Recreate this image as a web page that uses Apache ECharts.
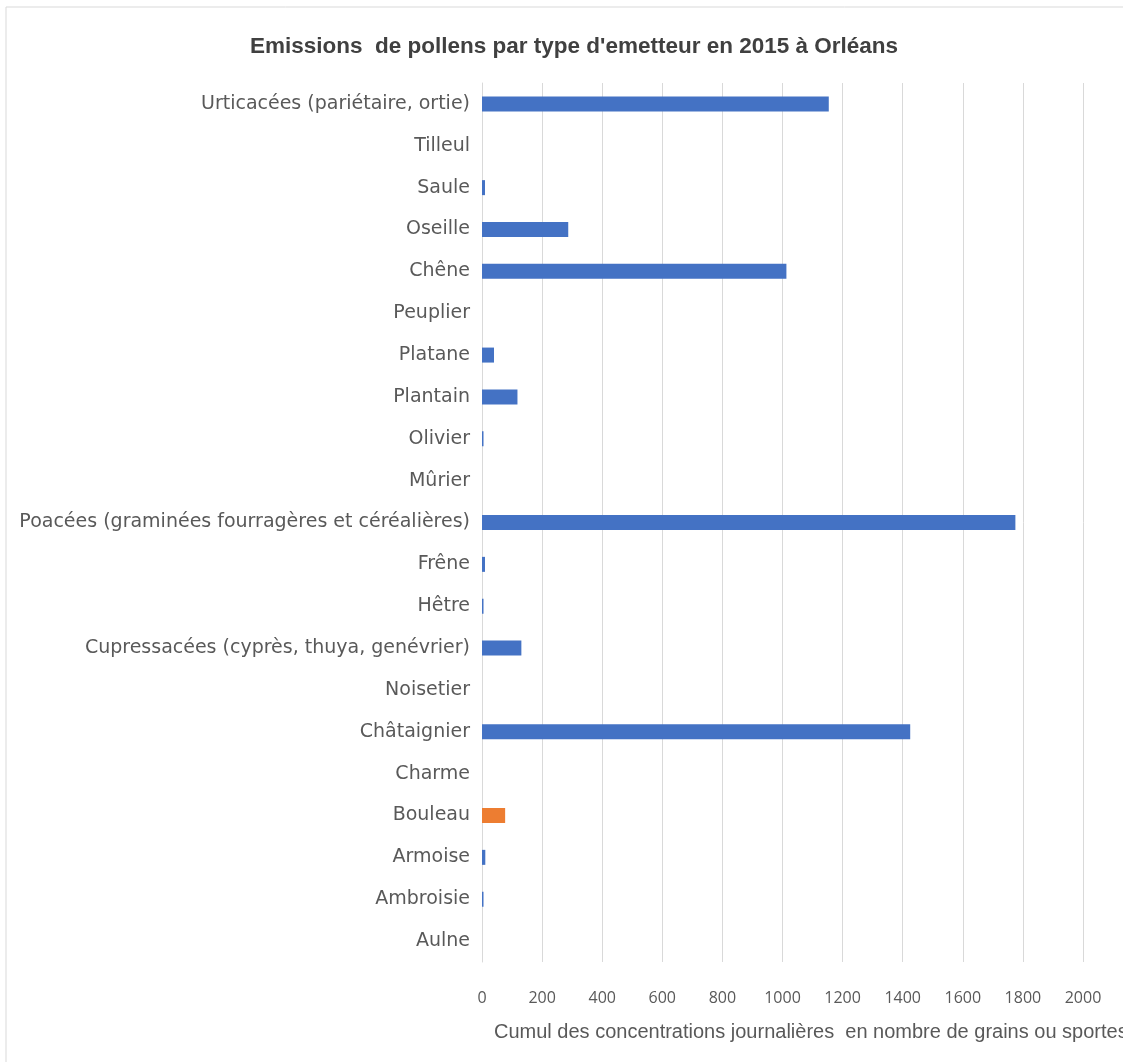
<!DOCTYPE html>
<html>
<head>
<meta charset="utf-8">
<script src="https://cdn.jsdelivr.net/npm/echarts@6/dist/echarts.min.js"></script>
<style>
  html, body { margin: 0; padding: 0; background: #ffffff; }
  #chart { width: 1123px; height: 1062px; }
</style>
</head>
<body>
<div id="chart"></div>
<script>
// Pollen types, listed top to bottom
const categories = [
  'Urticacées (pariétaire, ortie)', 'Tilleul', 'Saule', 'Oseille', 'Chêne',
  'Peuplier', 'Platane', 'Plantain', 'Olivier', 'Mûrier',
  'Poacées (graminées fourragères et céréalières)', 'Frêne', 'Hêtre',
  'Cupressacées (cyprès, thuya, genévrier)', 'Noisetier', 'Châtaignier',
  'Charme', 'Bouleau', 'Armoise', 'Ambroisie', 'Aulne'
];

// Cumulated daily concentrations (grains) for 2015
const values = [
  1154, 0, 10, 287, 1013,
  0, 40, 118, 5, 0,
  1775, 10, 5,
  131, 0, 1425,
  0, 77, 11, 5, 0
];

// Type drawn in the highlight colour
const highlighted = ['Bouleau'];

const xTicks = { min: 0, max: 2000, interval: 200 };

const titleText = "Emissions  de pollens par type d'emetteur en 2015 à Orléans";
const xAxisTitle = 'Cumul des concentrations journalières  en nombre de grains ou sportes';

const BLUE = '#4472C4';
const ORANGE = '#ED7D31';
const TEXT = '#595959';
const GRID = '#D9D9D9';

const chart = echarts.init(document.getElementById('chart'));

chart.setOption({
  backgroundColor: '#ffffff',
  animation: false,
  title: [
    {
      text: titleText,
      left: 569,
      textAlign: 'center',
      top: 30,
      textStyle: {
        fontFamily: 'Liberation Sans, Arial, sans-serif',
        fontSize: 22.5,
        fontWeight: 'bold',
        color: '#404040'
      }
    },
    {
      text: xAxisTitle,
      left: 489,
      top: 1017,
      textStyle: {
        fontFamily: 'Liberation Sans, Arial, sans-serif',
        fontSize: 20,
        fontWeight: 'normal',
        color: TEXT
      }
    }
  ],
  graphic: [
    {
      type: 'rect',
      shape: { x: 6, y: 7, width: 1140, height: 1080 },
      style: { fill: 'none', stroke: '#D9D9D9', lineWidth: 1 },
      silent: true
    }
  ],
  grid: {
    left: 482,
    right: 40,
    top: 83,
    bottom: 100,
    containLabel: false
  },
  xAxis: {
    type: 'value',
    min: xTicks.min,
    max: xTicks.max,
    interval: xTicks.interval,
    axisLine: { show: false },
    axisTick: { show: false },
    axisLabel: {
      margin: 28,
      fontFamily: 'Open Sans, Noto Sans, sans-serif',
      fontSize: 16,
      color: TEXT,
      formatter: (v) => String(v)
    },
    splitLine: { show: true, lineStyle: { color: GRID, width: 1 } }
  },
  yAxis: {
    type: 'category',
    inverse: true,
    data: categories,
    axisLine: { show: true, lineStyle: { color: GRID, width: 1 } },
    axisTick: { show: false },
    axisLabel: {
      margin: 12,
      fontFamily: 'DejaVu Sans, sans-serif',
      fontSize: 19,
      color: TEXT
    }
  },
  series: [
    {
      type: 'bar',
      barWidth: 15,
      data: values.map((v, i) => ({
        value: v,
        itemStyle: { color: highlighted.includes(categories[i]) ? ORANGE : BLUE }
      }))
    }
  ]
});
</script>
</body>
</html>
